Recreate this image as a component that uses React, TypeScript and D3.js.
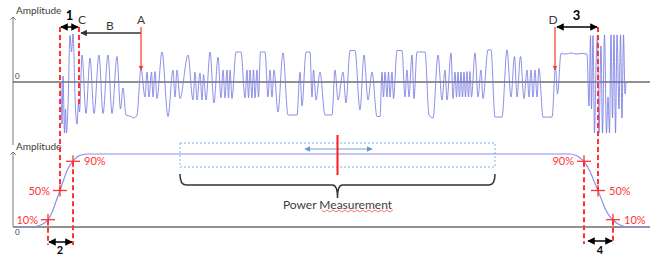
import React from 'react';
import * as d3 from 'd3';

// top trace: [time, amplitude] extrema
const burstWave: [number, number][] = [
  [61, 0], [62, -1.4], [63, 0.2], [64.5, -1.7], [65.5, -0.9], [66.5, -1.7], [68, -0.8],
  [70, 1.55], [71.5, 1.0], [73, 1.6], [75.5, -0.9], [77, -1.4], [78.5, -0.7], [79.5, -1.0],
  [82, 0.9], [86, -1.05], [90, 0.8], [94, -1.05], [99, 0.9], [103, -1.05], [108, 0.9],
  [112, -1.05], [117, 0.85], [120.5, -0.9], [123, -0.2], [126, -1.1], [131, -1.15],
  [134, -1.2], [137, -1.1], [141, 0.45],
  [145, -0.5], [147, 0.33], [149, -0.5], [151.5, 0.33], [153, -0.5], [155, 0.35], [157, -0.55],
  [162, 1.0], [168, -1.15], [173, 0.4], [175, -0.5], [177, 0.4], [180, -0.55],
  [188, 0.9], [193, -0.6], [195, 0.33], [197, -0.6], [200, 0.3], [202, -0.6], [203.5, 0.25], [206, -0.6],
  [210, 1.0], [214, -0.7], [218, 0.83], [221, -0.53], [223, 0.4], [225, -0.53], [227, 0.4],
  [228.5, -0.53], [230, 0.4], [232, -0.55],
  [236, 1.0], [241, 1.0], [245, -0.53], [247, 0.4], [248.5, -0.53], [250, 0.4], [252, -0.53],
  [253.5, 0.4], [255, -0.53], [257, 0.4], [258.5, -0.5],
  [260.5, 1.0], [265, 1.0], [268, -0.5], [270, 0.4], [272, -0.5], [274, 0.4], [278, -1.0],
  [283, 0.97], [288, -1.1], [297, -1.1], [300, 0.33], [302, -0.8],
  [306, 1.0], [310, 1.0], [312, -0.5], [313.5, 0.4], [316, -0.6], [320, 0.33], [325, -1.1],
  [332, -1.1], [335, 0.4], [338, -0.6], [343, 0.33], [346, -0.7], [350, 1.05], [355, 1.05],
  [360, -0.93], [364, 0.9], [368, -0.6], [372, 0.33], [377, -1.15], [380, -1.15],
  [382, 0.33], [383.5, -0.5], [385, 0.33], [387, -0.5], [388.5, 0.33], [390, -0.5], [392, 0.33], [393.5, -0.55],
  [397, 1.05], [402, 1.05], [405, -0.5], [407, 0.4], [409, -0.5], [412, 0.9], [414, -0.55],
  [417, 1.0], [425, 1.0], [429, -1.1], [433, -1.2], [438, 0.9], [442, -0.6], [445, 0.4],
  [447, -0.6], [451, 0.97], [453, -0.55], [455, 0.33], [456.5, -0.5], [458, 0.33], [459.5, -0.5],
  [461, 0.33], [462.5, -0.5], [464, 0.33], [465.5, -0.5], [467, 0.35], [468.5, -0.5], [470, 0.35], [471.5, -0.5],
  [475, 0.97], [478, -0.5], [481, 0.4], [483, -0.55], [488, 1.07], [491, 1.07], [495, -1.17],
  [502, -1.17], [507, 1.07], [511, -0.5], [514.5, 0.85], [517, -0.5], [520.5, 0.85], [524, -0.55],
  [527, 0.4], [529, -0.5], [531, 0.4], [533, -0.5], [535, 0.4], [537, -0.5], [539, 0.45],
  [543, -1.17], [552, -1.17], [555.5, 0.47], [557.5, -0.4], [561, 0.95], [566, 0.93], [571, 0.97],
  [576, 0.93], [581, 0.95], [587, 0.93],
  [589, -0.8], [590.5, 1.55], [591.5, -0.9], [593, 1.55], [594.5, -1.7], [596, 0.5], [597.5, 1.57],
  [599, -1.7], [601, 1.2], [602.5, -1.7], [604.5, 1.57], [606.5, -1.7], [608, -0.5], [609.5, -1.7],
  [611, 1.57], [612.5, -1.2], [614, 1.57], [615.5, -1.7], [617, 1.57], [619, -0.9], [620.5, 1.57],
  [622, -1.2], [623.5, 1.57], [625, -0.4], [626, 0],
];

// bottom trace: power envelope (0..1), S-shaped ramps
const envelope: [number, number][] = [
  [13, 0], [33, 0], [39, 0.02], [44, 0.05], [48, 0.1], [52, 0.2], [56, 0.35], [60, 0.5],
  [64, 0.66], [68, 0.8], [73, 0.9], [77, 0.96], [82, 0.99], [88, 1], [570, 1],
  [576, 0.98], [580, 0.95], [584, 0.9], [590, 0.76], [594, 0.63], [598, 0.5], [602, 0.36],
  [606, 0.23], [610, 0.14], [613, 0.1], [617, 0.05], [622, 0.02], [628, 0], [650, 0],
];

const levelMarks = [
  { t: 48, level: 0.1, label: '10%', side: 'left' },
  { t: 60, level: 0.5, label: '50%', side: 'left' },
  { t: 73, level: 0.9, label: '90%', side: 'right' },
  { t: 584, level: 0.9, label: '90%', side: 'left' },
  { t: 598, level: 0.5, label: '50%', side: 'right' },
  { t: 613, level: 0.1, label: '10%', side: 'right' },
];

const tStart = 60, tC = 79, tA = 141, tD = 555, tEnd = 598;
const tMeasure = [180, 495];

const W = 650, H = 258;
const RED = '#ff3333';
const INK = '#3c3c3c';
const FONT = 'Lato, "Liberation Sans", sans-serif';

export default function App() {
  const x = d3.scaleLinear().domain([0, 650]).range([0, W]);
  const yTop = d3.scaleLinear().domain([-2, 2]).range([142, 22]);
  const yBot = d3.scaleLinear().domain([0, 1]).range([227, 154]);

  const topLine = d3.line<[number, number]>()
    .x(d => x(d[0])).y(d => yTop(d[1])).curve(d3.curveMonotoneX);
  const envLine = d3.line<[number, number]>()
    .x(d => x(d[0])).y(d => yBot(d[1])).curve(d3.curveMonotoneX);

  const ax = x(13);
  const mx0 = x(tMeasure[0]), mx1 = x(tMeasure[1]);
  const mc = (mx0 + mx1) / 2;

  // red squiggle under "Measurement"
  let squiggle = 'M322,210';
  for (let i = 0; i < 24; i++) squiggle += ` L${324 + i * 3},${i % 2 ? 210 : 212}`;

  const dash = (t: number, y0: number, y1: number, key: string) => (
    <line key={key} x1={x(t)} x2={x(t)} y1={y0} y2={y1}
      stroke={RED} strokeWidth={2} strokeDasharray="5,3" />
  );

  return (
    <svg width={W} height={H} style={{ position: 'absolute', left: 0, top: 0, background: '#fff' }}
      fontFamily={FONT}>
      <defs>
        <marker id="ah" viewBox="0 0 10 10" refX="9" refY="5" markerWidth="5" markerHeight="5"
          orient="auto-start-reverse">
          <path d="M0,0 L10,5 L0,10 z" fill="#000" />
        </marker>
        <marker id="ahg" viewBox="0 0 10 10" refX="9" refY="5" markerWidth="5" markerHeight="5"
          orient="auto-start-reverse">
          <path d="M0,0 L10,5 L0,10 z" fill="#333" />
        </marker>
        <marker id="ahr" viewBox="0 0 10 10" refX="9" refY="5" markerWidth="4" markerHeight="4"
          orient="auto-start-reverse">
          <path d="M0,0 L10,5 L0,10 z" fill={RED} />
        </marker>
        <marker id="ahb" viewBox="0 0 10 10" refX="9" refY="5" markerWidth="3" markerHeight="3"
          orient="auto-start-reverse">
          <path d="M0,0 L10,5 L0,10 z" fill="#5b9bd5" />
        </marker>
        <marker id="axh" viewBox="0 0 10 10" refX="5" refY="1" markerWidth="7" markerHeight="7" orient="0">
          <path d="M1,5 L5,1 L9,5" fill="none" stroke="#666" strokeWidth="1.2" />
        </marker>
      </defs>

      {/* axes */}
      <line x1={ax} x2={ax} y1={145} y2={17} stroke="#777" markerEnd="url(#axh)" />
      <line x1={ax} x2={ax} y1={yBot(0)} y2={152} stroke="#777" markerEnd="url(#axh)" />
      <line x1={ax} x2={W} y1={yTop(0)} y2={yTop(0)} stroke="#6e6e6e" strokeWidth={1.3} />
      <line x1={ax} x2={W} y1={yBot(0)} y2={yBot(0)} stroke="#6e6e6e" strokeWidth={1.3} />
      <text x={16} y={14} fontSize={10} fill={INK}>Amplitude</text>
      <text x={16} y={150} fontSize={10} fill={INK}>Amplitude</text>
      <text x={15} y={yTop(0) - 3} fontSize={8} fill={INK}>0</text>
      <text x={15} y={yBot(0) + 8} fontSize={8} fill={INK}>0</text>

      {/* measurement window */}
      <rect x={mx0} y={143} width={mx1 - mx0} height={24} fill="none"
        stroke="#7fb2e0" strokeWidth={1} strokeDasharray="2,2" />

      {/* traces */}
      <path d={topLine(burstWave) ?? ''} fill="none" stroke="#7074e0" strokeWidth={1} strokeOpacity={0.8} />
      <path d={envLine(envelope) ?? ''} fill="none" stroke="#8c8fe6" strokeWidth={1.2} />

      <line x1={305} x2={372} y1={149} y2={149} stroke="#b8d0ec" strokeWidth={2}
        markerStart="url(#ahb)" markerEnd="url(#ahb)" />
      <line x1={mc} x2={mc} y1={135} y2={175} stroke="#ff1a1a" strokeWidth={2} />

      {/* brace */}
      <path d={`M${mx0},174 Q${mx0},185 ${mx0 + 6},185 L${mc - 5},185 Q${mc},185 ${mc},198 Q${mc},185 ${mc + 5},185 L${mx1 - 6},185 Q${mx1},185 ${mx1},174`}
        fill="none" stroke="#333" strokeWidth={1.5} />
      <text x={mc} y={209} fontSize={12} textAnchor="middle" fill={INK}>Power Measurement</text>
      <path d={squiggle} fill="none" stroke="#ff4d4d" strokeWidth={0.8} />

      {/* dashed timing markers */}
      {dash(tStart, 27, yBot(0.5), 'd0')}
      {dash(tC, 27, 107, 'd1')}
      {dash(tEnd, 27, yBot(0.5), 'd2')}
      {dash(48, yBot(0.1), 245, 'd3')}
      {dash(73, yBot(0.9), 245, 'd4')}
      {dash(584, yBot(0.9), 244, 'd5')}
      {dash(613, yBot(0.1), 244, 'd6')}

      {/* level crosses */}
      {levelMarks.map((m, i) => {
        const cx = x(m.t), cy = yBot(m.level);
        return (
          <g key={i}>
            <line x1={cx - 7} x2={cx + 7} y1={cy} y2={cy} stroke={RED} strokeWidth={1.3} />
            <line x1={cx} x2={cx} y1={cy - 6} y2={cy + 6} stroke={RED} strokeWidth={1.3} />
            <text x={m.side === 'left' ? cx - 10 : cx + 11} y={cy + 4} fontSize={11}
              textAnchor={m.side === 'left' ? 'end' : 'start'} fill={RED}>{m.label}</text>
          </g>
        );
      })}

      {/* numbered intervals */}
      <line x1={x(tStart) + 1} x2={x(tC) - 1} y1={27} y2={27} stroke="#000" strokeWidth={1.5}
        markerStart="url(#ah)" markerEnd="url(#ah)" />
      <text x={(x(tStart) + x(tC)) / 2} y={20} fontSize={13} fontWeight="bold" textAnchor="middle">1</text>
      <line x1={x(48) + 1} x2={x(73) - 1} y1={242} y2={242} stroke="#000" strokeWidth={1.5}
        markerStart="url(#ah)" markerEnd="url(#ah)" />
      <text x={x(60)} y={254} fontSize={11} fontWeight="bold" textAnchor="middle">2</text>
      <line x1={x(tD) + 2} x2={x(tEnd) - 1} y1={27} y2={27} stroke="#000" strokeWidth={1.5}
        markerStart="url(#ah)" markerEnd="url(#ah)" />
      <text x={(x(tD) + x(tEnd)) / 2} y={20} fontSize={13} fontWeight="bold" textAnchor="middle">3</text>
      <line x1={x(588)} x2={x(612)} y1={241} y2={241} stroke="#000" strokeWidth={1.5}
        markerStart="url(#ah)" markerEnd="url(#ah)" />
      <text x={x(600)} y={254} fontSize={11} fontWeight="bold" textAnchor="middle">4</text>

      {/* A / B / C / D annotations */}
      <line x1={x(tA)} x2={x(tC) + 2} y1={33} y2={33} stroke="#333" strokeWidth={1.3} markerEnd="url(#ahg)" />
      <line x1={x(tA)} x2={x(tA)} y1={27} y2={70} stroke={RED} strokeWidth={1.2} markerEnd="url(#ahr)" />
      <line x1={x(tD)} x2={x(tD)} y1={27} y2={70} stroke={RED} strokeWidth={1.2} markerEnd="url(#ahr)" />
      <text x={x(tA)} y={24} fontSize={12} textAnchor="middle" fill={INK}>A</text>
      <text x={(x(tA) + x(tC)) / 2} y={30} fontSize={12} textAnchor="middle" fill={INK}>B</text>
      <text x={x(tC) + 3} y={24} fontSize={12} textAnchor="middle" fill={INK}>C</text>
      <text x={x(tD) - 2} y={24} fontSize={12} textAnchor="middle" fill={INK}>D</text>
    </svg>
  );
}
